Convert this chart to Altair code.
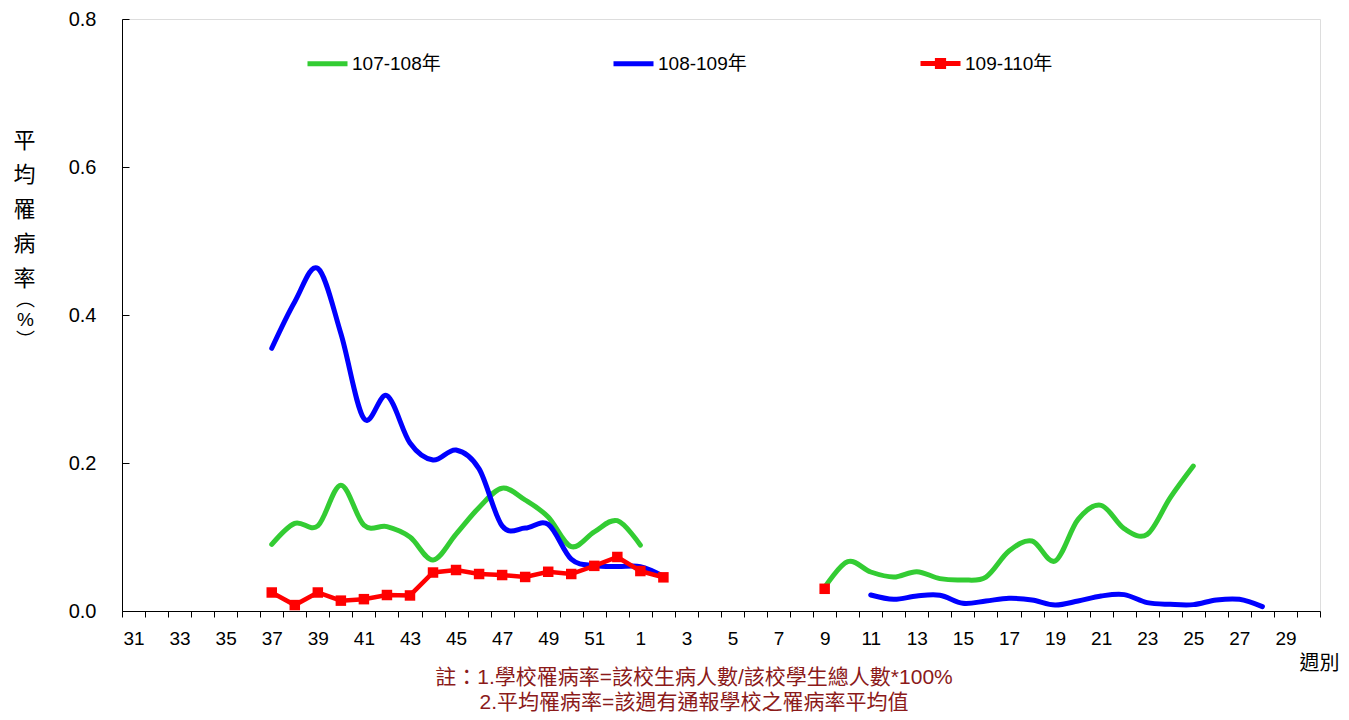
import altair as alt
import pandas as pd

# ---------------- data ----------------
week_labels = [str(w) for w in range(31, 53)] + [str(w) for w in range(1, 31)]

s1_name = "107-108年"
s2_name = "108-109年"
s3_name = "109-110年"

# 107-108年 (green)
s1_weeks_a = ["37", "38", "39", "40", "41", "42", "43", "44", "45", "46", "47", "48", "49", "50", "51", "52", "1"]
s1_vals_a = [0.090, 0.1185, 0.115, 0.170, 0.116, 0.114, 0.100, 0.069, 0.104, 0.140, 0.166, 0.150, 0.127, 0.087, 0.107, 0.122, 0.089]
s1_weeks_b = ["9", "10", "11", "12", "13", "14", "15", "16", "17", "18", "19", "20", "21", "22", "23", "24", "25"]
s1_vals_b = [0.032, 0.0667, 0.0527, 0.0459, 0.0532, 0.0437, 0.0419, 0.0459, 0.081, 0.0946, 0.0676, 0.1239, 0.1428, 0.1113, 0.1036, 0.1532, 0.1959]

# 108-109年 (blue)
s2_weeks_a = ["37", "38", "39", "40", "41", "42", "43", "44", "45", "46", "47", "48", "49", "50", "51", "52", "1", "2"]
s2_vals_a = [0.355, 0.418, 0.463, 0.375, 0.260, 0.291, 0.227, 0.204, 0.2176, 0.192, 0.115, 0.112, 0.117, 0.070, 0.0613, 0.060, 0.060, 0.047]
s2_weeks_b = ["11", "12", "13", "14", "15", "16", "17", "18", "19", "20", "21", "22", "23", "24", "25", "26", "27", "28"]
s2_vals_b = [0.0216, 0.0158, 0.0203, 0.0212, 0.0104, 0.0135, 0.0171, 0.0149, 0.0081, 0.0135, 0.0203, 0.0221, 0.0113, 0.0090, 0.0086, 0.0149, 0.0158, 0.0059]

# 109-110年 (red)
s3_weeks_a = ["37", "38", "39", "40", "41", "42", "43", "44", "45", "46", "47", "48", "49", "50", "51", "52", "1", "2"]
s3_vals_a = [0.025, 0.008, 0.025, 0.014, 0.016, 0.0216, 0.021, 0.052, 0.0554, 0.050, 0.0486, 0.046, 0.053, 0.050, 0.061, 0.073, 0.054, 0.0455]
s3_weeks_b = ["9"]
s3_vals_b = [0.030]

y_ticks = [0.0, 0.2, 0.4, 0.6, 0.8]
y_title_main = ["平", "均", "罹", "病", "率"]
y_title_unit = ["︵", "%", "︶"]
x_title = "週別"
note_lines = ["註：1.學校罹病率=該校生病人數/該校學生總人數*100%", "2.平均罹病率=該週有通報學校之罹病率平均值"]


def seg(series, seg_id, weeks, vals):
    return pd.DataFrame({"series": series, "seg": seg_id, "week": weeks, "value": vals})


smooth_df = pd.concat([
    seg(s1_name, "s1a", s1_weeks_a, s1_vals_a),
    seg(s1_name, "s1b", s1_weeks_b, s1_vals_b),
    seg(s2_name, "s2a", s2_weeks_a, s2_vals_a),
    seg(s2_name, "s2b", s2_weeks_b, s2_vals_b),
], ignore_index=True)

red_df = pd.concat([
    seg(s3_name, "s3a", s3_weeks_a, s3_vals_a),
    seg(s3_name, "s3b", s3_weeks_b, s3_vals_b),
], ignore_index=True)

red_b_df = seg(s3_name, "s3b", s3_weeks_b, s3_vals_b)

LATIN = "Liberation Sans, Noto Sans CJK TC"
CJK = "Noto Sans CJK TC"

x_enc = alt.X(
    "week:N",
    scale=alt.Scale(type="band", domain=week_labels, paddingInner=0, paddingOuter=0),
    axis=alt.Axis(
        tickBand="extent",
        labelExpr="toNumber(datum.value) % 2 == 1 ? datum.value : ''",
        labelOverlap=False,
        labelAngle=0,
        labelFont=LATIN,
        labelFontSize=19,
        labelColor="black",
        labelPadding=12,
        tickSize=6,
        tickColor="black",
        domainColor="black",
        grid=False,
        title=x_title,
        titleFont=CJK,
        titleFontSize=20,
        titleFontWeight="normal",
        titleColor="black",
        titleX=1217,
        titleY=52,
        titleAlign="right",
        titleBaseline="middle",
    ),
)

y_enc = alt.Y(
    "value:Q",
    scale=alt.Scale(domain=[0, 0.8], nice=False, zero=True),
    axis=alt.Axis(
        orient="left",
        values=y_ticks,
        format=".1f",
        ticks=False,
        tickSize=0,
        labelPadding=26,
        labelFont=LATIN,
        labelFontSize=20,
        labelColor="black",
        domainColor="black",
        grid=False,
        title=y_title_main,
        titleFont=LATIN,
        titleFontSize=22,
        titleFontWeight="normal",
        titleColor="black",
        titleAngle=0,
        titleAlign="center",
        titleBaseline="top",
        titleLineHeight=34.5,
        titleX=-98,
        titleY=111,
    ),
)

legend_common = dict(
    orient="none",
    legendY=22,
    direction="horizontal",
    title=None,
    padding=0,
    symbolSize=1600,
    symbolStrokeWidth=5,
    labelFont=LATIN,
    labelFontSize=19,
    labelColor="black",
    labelOffset=2,
)

color_enc = alt.Color(
    "series:N",
    scale=alt.Scale(domain=[s1_name, s2_name], range=["#33cc33", "#0000ff"]),
    legend=alt.Legend(legendX=183, symbolType="stroke", columnPadding=162, **legend_common),
)

# legend glyph for the red series: a short bar with a square marker (filled path)
RED_PATH = ("M-1,-0.12L1,-0.12L1,0.12L-1,0.12Z"
            "M-0.28,-0.28L0.28,-0.28L0.28,0.28L-0.28,0.28Z")

smooth = alt.Chart(smooth_df).mark_line(
    interpolate="cardinal", tension=0, strokeWidth=5, strokeCap="round"
).encode(x=x_enc, y=y_enc, color=color_enc, detail="seg:N")

red_line = alt.Chart(red_df).mark_line(strokeWidth=4.5, color="#ff0000").encode(
    x=x_enc, y=y_enc, detail="seg:N"
)

red_pts = alt.Chart(red_df).mark_square(size=110, opacity=1, filled=True, color="#ff0000").encode(
    x=x_enc, y=y_enc
)

main = alt.layer(smooth, red_line, red_pts)

# helper layer: carries the inward tick axis, the "(%)" part of the y title and the red legend entry;
# its point is shifted out of the clipped plot so it is not drawn
helper = alt.Chart(red_b_df).transform_calculate(off="datum.value - 1").mark_point(
    clip=True, filled=True, color="#ff0000", opacity=1
).encode(
    x=x_enc,
    y=alt.Y(
        "off:Q",
        scale=alt.Scale(domain=[0, 0.8], nice=False, zero=True),
        axis=alt.Axis(
            orient="right",
            offset=-1198,
            values=y_ticks,
            labels=False,
            domain=False,
            ticks=True,
            tickSize=7,
            tickColor="black",
            grid=False,
            title=y_title_unit,
            titleFont=LATIN,
            titleFontSize=19,
            titleFontWeight="normal",
            titleColor="black",
            titleAngle=0,
            titleAlign="center",
            titleBaseline="top",
            titleLineHeight=20.5,
            titleX=-97,
            titleY=271,
        ),
    ),
    shape=alt.Shape(
        "series:N",
        scale=alt.Scale(domain=[s3_name], range=[RED_PATH]),
        legend=alt.Legend(
            legendX=796,
            symbolFillColor="#ff0000",
            symbolStrokeColor="#ff0000",
            symbolOpacity=1,
            **legend_common,
        ),
    ),
)

chart = alt.layer(main, helper).resolve_scale(y="independent").properties(
    width=1198,
    height=592,
    autosize=alt.AutoSizeParams(type="none"),
    padding={"left": 114, "top": 11, "right": 21, "bottom": 101},
    title=alt.TitleParams(
        text=note_lines,
        orient="bottom",
        anchor="start",
        frame="group",
        align="center",
        baseline="top",
        dx=572,
        dy=-6,
        offset=0,
        font=LATIN,
        fontSize=21,
        fontWeight="normal",
        color="#8B1A1A",
        lineHeight=25,
    ),
).configure_view(stroke="black", strokeWidth=1).configure(background="white")

chart.save("out.html", embed_options={"renderer": "svg", "actions": False})
